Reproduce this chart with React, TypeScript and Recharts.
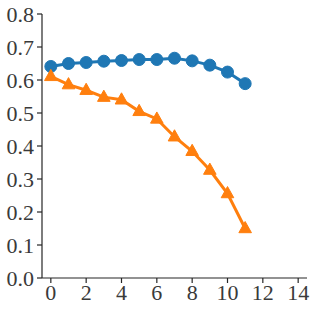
import { LineChart, Line, XAxis, YAxis } from "recharts";

const steps = [0, 1, 2, 3, 4, 5, 6, 7, 8, 9, 10, 11];
const blueValues = [0.641, 0.65, 0.653, 0.657, 0.659, 0.662, 0.662, 0.666, 0.658, 0.645, 0.624, 0.589];
const orangeValues = [0.611, 0.586, 0.569, 0.548, 0.54, 0.505, 0.482, 0.428, 0.384, 0.327, 0.256, 0.15];
const xTicks = [0, 2, 4, 6, 8, 10, 12, 14];
const yTicks = [0, 0.1, 0.2, 0.3, 0.4, 0.5, 0.6, 0.7, 0.8];

const data = steps.map((s, i) => ({ x: s, blue: blueValues[i], orange: orangeValues[i] }));

const axisColor = "#262626";
const font = { fontFamily: "'Liberation Serif', serif", fontSize: 22, fill: "#3a3a3a" };

function Triangle(props: any) {
  const { cx, cy, key } = props;
  if (cx == null || cy == null) return null;
  const r = 7;
  const pts = `${cx},${cy - r} ${cx - r * 0.9},${cy + r * 0.6} ${cx + r * 0.9},${cy + r * 0.6}`;
  return <polygon key={key} points={pts} fill="#ff7f0e" stroke="#ff7f0e" strokeWidth={1} />;
}

export default function App() {
  return (
    <div style={{ position: "fixed", left: 0, top: 0, background: "#fff" }}>
      <LineChart width={316} height={313} data={data} margin={{ top: 14, right: 9, bottom: 0, left: 0 }}>
        <XAxis
          dataKey="x"
          type="number"
          domain={[-0.5, 14.5]}
          ticks={xTicks}
          height={35}
          tickSize={5}
          tickMargin={1}
          stroke={axisColor}
          strokeWidth={1.2}
          tick={font}
          allowDataOverflow
        />
        <YAxis
          type="number"
          domain={[0, 0.8]}
          ticks={yTicks}
          width={42}
          tickSize={5}
          tickMargin={3}
          stroke={axisColor}
          strokeWidth={1.2}
          tick={font}
          tickFormatter={(v: number) => v.toFixed(1)}
        />
        <Line
          dataKey="blue"
          stroke="#1f77b4"
          strokeWidth={3}
          dot={{ r: 6, fill: "#1f77b4", stroke: "#1f77b4", strokeWidth: 1 }}
          isAnimationActive={false}
        />
        <Line
          dataKey="orange"
          stroke="#ff7f0e"
          strokeWidth={3}
          dot={<Triangle />}
          isAnimationActive={false}
        />
      </LineChart>
    </div>
  );
}
